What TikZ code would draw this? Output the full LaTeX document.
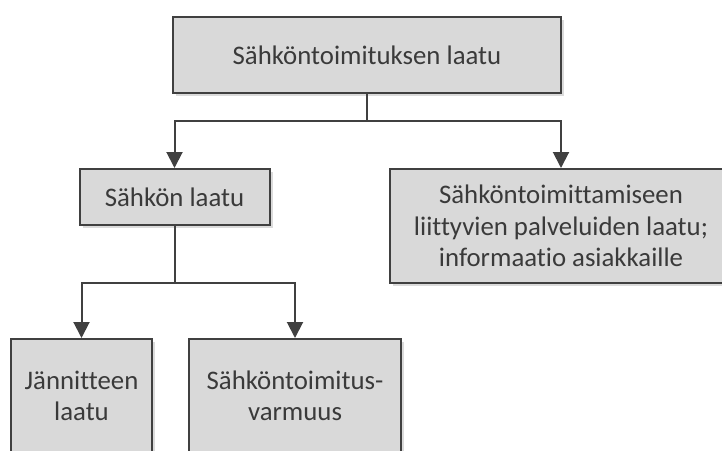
\documentclass[tikz,border=0pt]{standalone}
\usepackage{fontspec}
\setmainfont{Carlito}[Ligatures=CommonOff]
\usetikzlibrary{arrows.meta,shadows}
\definecolor{boxfill}{HTML}{D9D9D9}
\definecolor{boxline}{HTML}{404040}
\definecolor{boxtext}{HTML}{3A3A3A}
\tikzset{
  qbox/.style={draw=boxline, line width=2pt, fill=boxfill, text=boxtext,
    align=center, inner sep=0pt, font=\fontsize{26.8}{31.5}\selectfont,
    drop shadow={shadow xshift=3pt, shadow yshift=-3pt, fill=black!14, opacity=1}},
  conn/.style={draw=boxline, line width=2pt, -{Triangle[width=16pt,length=16pt]}},
}
\begin{document}
\begin{tikzpicture}[x=1pt,y=-1pt]
\useasboundingbox (0,0) rectangle (722,450);
\clip (0,0) rectangle (722,450);

\node[qbox, minimum width=388pt, minimum height=76pt] (supply) at (367,55)
  {Sähköntoimituksen laatu};
\node[qbox, minimum width=190pt, minimum height=56pt] (power) at (174.5,197)
  {Sähkön laatu};
\node[qbox, minimum width=342pt, minimum height=114pt] (service) at (561,226)
  {Sähköntoimittamiseen\\liittyvien palveluiden laatu;\\informaatio asiakkaille};
\node[qbox, minimum width=141pt, minimum height=114pt] (voltage) at (81.5,396)
  {Jännitteen\\laatu};
\node[qbox, minimum width=212pt, minimum height=114pt] (reliab) at (295,396)
  {Sähköntoimitus-\\varmuus};

% branch points
\coordinate (split1) at (supply.south |- 0,121);
\coordinate (split2) at (power.south |- 0,283);

\draw[conn] (supply.south) -- (split1) -| (power.north);
\draw[conn] (split1) -| (service.north);
\draw[conn] (power.south) -- (split2) -| (voltage.north);
\draw[conn] (split2) -| (reliab.north);
\end{tikzpicture}
\end{document}
